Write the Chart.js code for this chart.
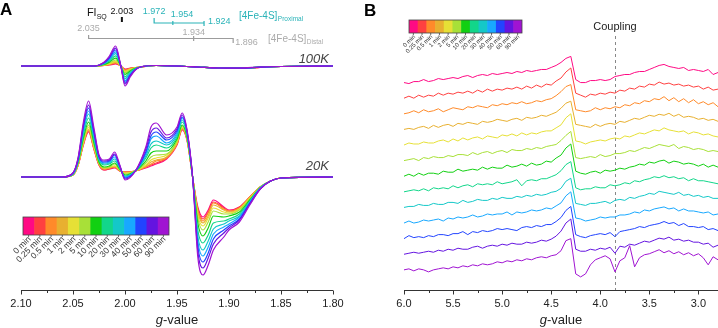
<!DOCTYPE html>
<html>
<head>
<meta charset="utf-8">
<script src="https://cdn.jsdelivr.net/npm/chart.js@4.4.0/dist/chart.umd.min.js"></script>
<style>
  html, body { margin: 0; padding: 0; background: #fff; }
  #wrap { position: relative; width: 718px; height: 328px; overflow: hidden; }
  #ca { position: absolute; left: 0; top: 0; }
  #cb { position: absolute; left: 360px; top: 0; }
</style>
</head>
<body>
<div id="wrap">
  <canvas id="ca" width="360" height="328"></canvas>
  <canvas id="cb" width="358" height="328"></canvas>
</div>
<script>
const FONT = '"Liberation Sans", Arial, Helvetica, sans-serif'

// incubation times and their colours (shared by both panels)
const times = ['0 min', '0.25 min', '0.5 min', '1 min', '2 min', '5 min', '10 min',
  '20 min', '30 min', '40 min', '50 min', '60 min', '90 min']
const colors = ['#ff0a84', '#ff4040', '#ff8a2a', '#e8b030', '#e6e036', '#a8e038', '#12d012',
  '#12d68a', '#14c8c8', '#18a8ff', '#2244ff', '#6414e0', '#a014d2']

// axis ticks
const majorTicksA = [1.80, 1.85, 1.90, 1.95, 2.00, 2.05, 2.10]
const minorTicksA = [1.825, 1.875, 1.925, 1.975, 2.025, 2.075]
const majorTicksB = [3.0, 3.5, 4.0, 4.5, 5.0, 5.5, 6.0]
const minorTicksB = [3.25, 3.75, 4.25, 4.75, 5.25, 5.75]

// g-value markers
const flSQ = [2.003]
const proximalG = [1.972, 1.954, 1.924]
const distalG = [2.035, 1.934, 1.896]
const couplingG = 3.85

// panel A, 20K spectra (one row per time)
const gA20 = [2.10, 2.06, 2.05, 2.045, 2.04, 2.035, 2.03, 2.025, 2.02, 2.015, 2.01, 2.005, 2.0, 1.99,
  1.98, 1.975, 1.97, 1.96, 1.95, 1.945, 1.94, 1.935, 1.93, 1.925, 1.92, 1.915, 1.905, 1.90, 1.89,
  1.88, 1.87, 1.86, 1.85, 1.80]
const spec20K = [
  [0,0,2,12,32,45,28,12,7,8,9,6,5,6,9,11,13,18,32,47,35,0,-30,-40,-33,-23,-30,-33,-30,-20,-10,-4,-1,0],
  [0,0,2,12,33,46,29,12,7,8,10,6,5,6,10,12,14,19,33,48,35,0,-32,-42,-35,-25,-31,-34,-30,-20,-10,-4,-1,0],
  [0,0,2,12,33,47,29,13,8,9,10,6,5,6,10,13,16,19,33,48,36,0,-33,-44,-36,-26,-32,-34,-31,-20,-10,-4,-1,0],
  [0,0,2,13,34,48,30,13,8,9,11,7,4,6,11,15,17,20,34,49,36,0,-35,-46,-39,-28,-33,-35,-32,-21,-10,-4,-1,0],
  [0,0,2,13,35,50,31,14,9,10,11,7,4,6,12,17,19,22,35,50,37,0,-38,-49,-41,-31,-35,-36,-32,-21,-10,-4,-1,0],
  [0,0,2,14,37,52,33,14,9,10,13,7,3,6,14,20,22,23,36,51,37,0,-41,-53,-45,-34,-37,-37,-33,-22,-10,-4,-1,0],
  [0,0,3,15,39,55,35,15,10,11,14,8,2,6,16,24,26,26,38,52,38,0,-46,-59,-51,-39,-40,-39,-35,-23,-11,-4,-1,0],
  [0,0,3,16,42,59,38,17,12,13,16,9,1,6,19,29,32,29,40,55,40,0,-53,-66,-58,-46,-44,-42,-37,-24,-11,-4,-1,0],
  [0,0,3,17,45,63,41,18,13,14,18,9,0,6,21,33,36,32,42,57,41,0,-59,-73,-64,-52,-47,-44,-39,-25,-11,-4,-1,0],
  [0,0,3,17,48,66,43,19,14,15,20,10,0,6,23,38,41,34,44,59,42,0,-64,-79,-70,-57,-50,-47,-40,-25,-11,-4,-1,0],
  [0,0,4,18,50,69,45,20,15,16,22,11,-1,6,25,41,45,37,46,60,43,0,-69,-85,-76,-62,-53,-49,-42,-26,-12,-4,-1,0],
  [0,0,4,19,52,72,47,21,16,17,23,11,-2,6,28,45,49,39,48,62,44,0,-74,-91,-81,-67,-56,-51,-43,-27,-12,-4,-1,0],
  [0,0,4,20,55,76,50,22,17,18,25,12,-3,6,30,50,54,42,50,64,45,0,-80,-98,-88,-73,-60,-53,-45,-28,-12,-4,-1,0]
]

// panel A, 100K spectra
const gA100 = [2.10, 2.03, 2.02, 2.015, 2.009, 2.004, 2.0, 1.995, 1.99, 1.985, 1.97, 1.95, 1.93, 1.91,
  1.89, 1.87, 1.85, 1.80]
const spec100K = [
  [0,0,0.5,1,2,0,-3,-2,-1.5,-1,0.5,0,-1,-2,-2.5,-1.5,-0.5,0],
  [0,0,0.6,1.3,2.5,0,-3.5,-2.3,-1.6,-1,0.5,0,-1,-2,-2.4,-1.4,-0.5,0],
  [0,0,0.7,1.5,3.1,0,-4,-2.5,-1.7,-1,0.5,0,-1,-2,-2.3,-1.3,-0.5,0],
  [0,0,0.9,1.9,3.8,0,-4.7,-2.9,-1.8,-1,0.5,0,-1,-2,-2.2,-1.2,-0.5,0],
  [0,0,1,2.4,4.7,0,-5.6,-3.4,-1.9,-1,0.5,0,-1,-2,-2.2,-1.2,-0.5,0],
  [0,0,1.3,3,6,0,-6.7,-4,-2.1,-1,0.5,0,-1,-2,-2.2,-1.2,-0.5,0],
  [0,0,1.6,3.9,7.8,0,-8.4,-4.9,-2.3,-1,0.5,0,-1,-2,-2.2,-1.2,-0.5,0],
  [0,0,2.1,5,10.1,0,-10.7,-6.1,-2.6,-1,0.5,0,-1,-2,-2.2,-1.2,-0.5,0],
  [0,0,2.5,6.1,12.3,0,-12.7,-7.1,-2.9,-1,0.5,0,-1,-2,-2.2,-1.2,-0.5,0],
  [0,0,2.9,7.1,14.2,0,-14.6,-8.1,-3.2,-1,0.5,0,-1,-2,-2.2,-1.2,-0.5,0],
  [0,0,3.2,8,16,0,-16.3,-9,-3.5,-1,0.5,0,-1,-2,-2.2,-1.2,-0.5,0],
  [0,0,3.6,8.9,17.8,0,-18,-9.9,-3.7,-1,0.5,0,-1,-2,-2.2,-1.2,-0.5,0],
  [0,0,4,10,20,0,-20,-11,-4,-1,0.5,0,-1,-2,-2,-1,-0.5,0]
]

// panel B, low-field traces
const gB = [6.00, 5.95, 5.90, 5.85, 5.80, 5.75, 5.70, 5.65, 5.60, 5.55, 5.50, 5.45, 5.40, 5.35, 5.30,
  5.25, 5.20, 5.15, 5.10, 5.05, 5.00, 4.95, 4.90, 4.85, 4.80, 4.75, 4.70, 4.65, 4.60, 4.55, 4.50,
  4.45, 4.40, 4.35, 4.30, 4.25, 4.20, 4.15, 4.10, 4.05, 4.00, 3.95, 3.90, 3.85, 3.80, 3.75, 3.70,
  3.65, 3.60, 3.55, 3.50, 3.45, 3.40, 3.35, 3.30, 3.25, 3.20, 3.15, 3.10, 3.05, 3.00, 2.95, 2.90,
  2.85, 2.80]
const traceB = [
  [0,-1,1,1,3,1,2,4,3,4,5,4,6,7,5,7,8,7,9,8,9,10,9,11,10,12,11,12,13,13,15,17,20,24,26,3,0,0,2,2,3,2,3,6,7,8,8,10,11,11,13,15,17,18,16,15,14,15,12,13,12,11,13,8,10],
  [0,2,0,3,1,3,2,5,3,5,4,6,5,7,5,8,6,9,7,9,8,10,9,11,9,12,10,13,11,14,13,17,20,26,30,5,3,1,4,3,5,4,6,5,8,7,10,9,12,11,14,13,16,14,15,13,14,12,13,11,12,9,11,8,9],
  [0,1,3,1,4,2,3,5,2,4,6,5,4,7,6,8,7,6,9,8,10,9,11,10,12,10,11,13,12,14,15,18,22,27,29,4,3,2,3,6,4,6,5,7,6,9,8,11,10,13,12,15,14,17,13,16,12,15,11,14,10,12,9,11,7],
  [0,1,0,2,3,1,4,2,4,5,3,6,5,7,6,5,8,7,8,10,9,8,10,11,9,12,11,12,14,13,15,17,21,26,28,5,4,3,2,5,3,5,6,5,8,7,9,11,10,12,14,13,15,14,16,13,15,12,13,12,10,11,9,10,8],
  [0,2,1,1,3,2,2,4,5,3,6,4,7,5,7,8,6,9,8,7,10,9,11,9,12,10,12,11,13,14,14,17,20,27,31,4,3,1,3,4,5,4,6,7,6,9,8,10,12,11,13,15,14,17,15,14,13,14,11,13,12,10,11,9,8],
  [0,1,2,0,3,2,4,3,3,5,4,6,6,5,8,6,8,9,7,9,10,8,11,10,10,12,11,13,12,14,15,16,20,25,29,3,2,3,4,3,6,4,5,7,7,8,10,9,11,13,12,14,16,15,14,16,12,14,13,11,12,11,9,10,9],
  [0,2,0,3,1,3,3,2,5,4,4,7,5,6,7,6,9,7,9,8,8,11,9,10,12,10,13,11,12,15,14,18,21,28,32,5,3,2,4,5,3,6,5,6,8,7,9,10,12,11,14,13,15,16,13,15,14,12,13,12,10,12,9,11,9],
  [0,1,2,1,3,1,4,3,4,3,6,4,6,7,5,8,7,8,7,10,8,9,10,12,6,11,12,11,13,13,15,17,21,27,30,4,2,3,3,5,4,4,7,6,7,9,8,11,10,12,13,15,14,16,14,15,13,14,11,13,11,11,10,9,8],
  [0,1,1,3,2,2,4,3,3,5,5,4,7,5,6,8,7,7,9,8,10,9,9,11,10,12,11,13,12,13,15,16,19,26,29,4,3,2,4,4,5,6,4,7,8,7,10,9,11,12,14,13,16,15,14,13,15,12,13,11,12,10,11,9,9],
  [0,2,0,1,3,2,3,4,2,5,4,6,5,6,8,6,7,9,8,9,9,11,8,11,10,11,13,12,13,15,14,17,20,27,31,5,4,2,3,4,6,5,6,6,8,8,9,11,10,13,12,14,15,16,14,15,12,14,12,12,11,10,11,8,9],
  [0,3,1,2,1,3,2,4,4,3,5,5,7,4,7,6,8,7,8,10,9,10,9,8,11,12,11,13,12,14,14,17,21,28,32,4,2,1,3,4,5,4,6,2,7,8,9,10,12,11,13,14,15,17,15,16,13,15,12,12,11,12,9,10,8],
  [0,1,2,1,2,3,2,4,3,5,4,6,5,5,7,8,6,8,9,8,10,9,11,10,10,12,11,12,14,13,15,18,23,31,35,5,3,3,5,4,6,5,7,1,8,7,10,9,11,13,12,14,16,15,17,14,15,13,14,12,12,10,11,7,9],
  [0,1,-1,1,0,-2,0,1,2,1,3,2,4,3,5,4,6,5,6,8,7,9,8,10,9,11,10,12,13,12,14,15,19,29,31,-4,-7,-4,5,10,12,14,11,-2,9,12,24,3,12,15,16,18,20,17,19,16,18,15,17,14,16,12,5,13,10]
]

// layout: vertical stacking of the curves
const off100K = 111
const traceGap = 15.5
const lowestTrace = 20

function tickList(majors, minors) {
  return majors.map(v => ({ value: v, big: true }))
    .concat(minors.map(v => ({ value: v, big: false })))
    .sort((a, b) => a.value - b.value)
}

function xAxis(min, max, majors, minors, digits) {
  return {
    type: 'linear', reverse: true, min: min, max: max,
    afterBuildTicks: s => { s.ticks = tickList(majors, minors) },
    afterFit: s => { s.height = 38 },
    grid: { display: false, drawTicks: false },
    border: { display: false },
    ticks: {
      autoSkip: false, maxRotation: 0, minRotation: 0, padding: 7, color: '#222',
      font: { family: FONT, size: 11 },
      callback: (v, i, arr) => (arr[i] && arr[i].big) ? Number(v).toFixed(digits) : ''
    }
  }
}

function drawAxis(chart) {
  const { ctx, chartArea: a, scales: { x } } = chart
  ctx.save()
  ctx.strokeStyle = '#333'
  ctx.lineWidth = 1
  const y = Math.round(a.bottom) + 0.5
  ctx.beginPath()
  ctx.moveTo(a.left, y)
  ctx.lineTo(a.right, y)
  x.ticks.forEach(t => {
    const px = Math.round(x.getPixelForValue(t.value)) + 0.5
    ctx.moveTo(px, y)
    ctx.lineTo(px, y + (t.big ? 4 : 2.5))
  })
  ctx.stroke()
  // axis title with italic g
  ctx.fillStyle = '#222'
  ctx.textBaseline = 'middle'
  ctx.textAlign = 'left'
  const f1 = 'italic 13px ' + FONT, f2 = '13px ' + FONT
  ctx.font = f1
  const w1 = ctx.measureText('g').width
  ctx.font = f2
  const w2 = ctx.measureText('-value').width
  const sx = (a.left + a.right) / 2 - (w1 + w2) / 2
  ctx.font = f1
  ctx.fillText('g', sx, 320)
  ctx.font = f2
  ctx.fillText('-value', sx + w1, 320)
  ctx.restore()
}

function drawColorbar(ctx, x0, y0, w, h, fs) {
  const sw = w / colors.length
  ctx.save()
  colors.forEach((c, i) => {
    ctx.fillStyle = c
    ctx.fillRect(x0 + i * sw, y0, i === colors.length - 1 ? sw : sw + 0.6, h)
  })
  ctx.strokeStyle = '#444'
  ctx.lineWidth = 0.8
  ctx.strokeRect(x0, y0, w, h)
  ctx.fillStyle = '#333'
  ctx.font = fs + 'px ' + FONT
  ctx.textAlign = 'right'
  ctx.textBaseline = 'middle'
  times.forEach((t, i) => {
    const cx = x0 + (i + 0.5) * sw
    ctx.beginPath()
    ctx.moveTo(cx, y0 + h)
    ctx.lineTo(cx, y0 + h + 2)
    ctx.stroke()
    ctx.save()
    ctx.translate(cx + 1, y0 + h + 3)
    ctx.rotate(-Math.PI / 4)
    ctx.fillText(t, 0, 0)
    ctx.restore()
  })
  ctx.restore()
}

// text followed by a subscript
function subText(ctx, main, sub, x, y, size, subSize) {
  ctx.font = size + 'px ' + FONT
  ctx.fillText(main, x, y)
  const w = ctx.measureText(main).width
  ctx.font = subSize + 'px ' + FONT
  ctx.fillText(sub, x + w + 0.5, y + size * 0.35)
}

const decorA = {
  id: 'decorA',
  afterDraw(chart) {
    const { ctx, scales: { x } } = chart
    const px = g => x.getPixelForValue(g)
    drawAxis(chart)
    ctx.save()
    ctx.textBaseline = 'middle'
    ctx.textAlign = 'left'
    ctx.fillStyle = '#000'
    ctx.font = 'bold 17px ' + FONT
    ctx.fillText('A', 0, 10)

    ctx.font = 'italic 13px ' + FONT
    ctx.fillStyle = '#444'
    ctx.textAlign = 'right'
    ctx.fillText('100K', 329, 59)
    ctx.fillText('20K', 329, 166)

    // semiquinone marker
    ctx.textAlign = 'left'
    ctx.fillStyle = '#111'
    subText(ctx, 'Fl', 'SQ', 87, 13, 11, 7)
    ctx.font = '9px ' + FONT
    ctx.textAlign = 'center'
    ctx.fillText(flSQ[0].toFixed(3), px(flSQ[0]), 12)
    ctx.strokeStyle = '#111'
    ctx.lineWidth = 2
    ctx.beginPath()
    ctx.moveTo(px(flSQ[0]), 17)
    ctx.lineTo(px(flSQ[0]), 22)
    ctx.stroke()

    // proximal cluster
    const teal = '#2ab3b8'
    const [p1, p2, p3] = proximalG.map(px)
    ctx.strokeStyle = teal
    ctx.lineWidth = 1.2
    ctx.beginPath()
    ctx.moveTo(p1, 18); ctx.lineTo(p1, 23); ctx.lineTo(p3, 23)
    ctx.moveTo(p3, 21); ctx.lineTo(p3, 26)
    ctx.moveTo(p2, 21); ctx.lineTo(p2, 25)
    ctx.stroke()
    ctx.fillStyle = teal
    ctx.font = '9px ' + FONT
    ctx.textAlign = 'center'
    ctx.fillText(proximalG[0].toFixed(3), p1, 12)
    ctx.textAlign = 'left'
    ctx.fillText(proximalG[1].toFixed(3), p2 - 2, 15)
    ctx.fillText(proximalG[2].toFixed(3), p3 + 4, 22)
    subText(ctx, '[4Fe-4S]', 'Proximal', 239, 16, 10, 6.5)

    // distal cluster
    const [d1, d2, d3] = distalG.map(px)
    ctx.strokeStyle = '#9c9c9c'
    ctx.lineWidth = 1.2
    ctx.beginPath()
    ctx.moveTo(d1, 35); ctx.lineTo(d1, 38.5); ctx.lineTo(d3, 38.5)
    ctx.moveTo(d2, 36); ctx.lineTo(d2, 41)
    ctx.moveTo(d3, 38); ctx.lineTo(d3, 43)
    ctx.stroke()
    ctx.fillStyle = '#ababab'
    ctx.font = '9px ' + FONT
    ctx.textAlign = 'center'
    ctx.fillText(distalG[0].toFixed(3), d1, 29)
    ctx.fillText(distalG[1].toFixed(3), d2, 33)
    ctx.textAlign = 'left'
    ctx.fillText(distalG[2].toFixed(3), d3 + 2, 43)
    subText(ctx, '[4Fe-4S]', 'Distal', 268, 39, 10, 6.5)
    ctx.restore()

    drawColorbar(ctx, 23, 217, 146, 18, 8.5)
  }
}

const decorB = {
  id: 'decorB',
  beforeDatasetsDraw(chart) {
    const { ctx, chartArea: a, scales: { x } } = chart
    const cx = Math.round(x.getPixelForValue(couplingG)) + 0.5
    ctx.save()
    ctx.strokeStyle = '#888'
    ctx.lineWidth = 1
    ctx.setLineDash([3, 3])
    ctx.beginPath()
    ctx.moveTo(cx, 36)
    ctx.lineTo(cx, a.bottom)
    ctx.stroke()
    ctx.restore()
  },
  afterDraw(chart) {
    const { ctx, scales: { x } } = chart
    drawAxis(chart)
    ctx.save()
    ctx.textBaseline = 'middle'
    ctx.fillStyle = '#000'
    ctx.font = 'bold 17px ' + FONT
    ctx.textAlign = 'left'
    ctx.fillText('B', 4, 11)
    ctx.font = '11px ' + FONT
    ctx.fillStyle = '#222'
    ctx.textAlign = 'center'
    ctx.fillText('Coupling', x.getPixelForValue(couplingG), 27)
    ctx.restore()
    drawColorbar(ctx, 49, 20, 113, 13, 6)
  }
}

// later times are drawn on top (lower order = drawn last)
const datasetsA = []
spec100K.forEach((row, s) => {
  datasetsA.push({
    data: gA100.map((g, k) => ({ x: g, y: row[k] + off100K })),
    borderColor: colors[s], borderWidth: 1.2, pointRadius: 0,
    cubicInterpolationMode: 'monotone', fill: false, order: colors.length - s
  })
})
spec20K.forEach((row, s) => {
  datasetsA.push({
    data: gA20.map((g, k) => ({ x: g, y: row[k] })),
    borderColor: colors[s], borderWidth: 1.2, pointRadius: 0,
    cubicInterpolationMode: 'monotone', fill: false, order: colors.length - s
  })
})

const datasetsB = traceB.map((row, s) => ({
  data: gB.map((g, k) => ({ x: g, y: row[k] + lowestTrace + (traceB.length - 1 - s) * traceGap })),
  borderColor: colors[s], borderWidth: 1, pointRadius: 0, tension: 0, fill: false
}))

const common = {
  responsive: false, animation: false, devicePixelRatio: 1,
  plugins: { legend: { display: false }, tooltip: { enabled: false } },
  events: []
}

new Chart(document.getElementById('ca'), {
  type: 'line',
  data: { datasets: datasetsA },
  options: Object.assign({}, common, {
    layout: { padding: { left: 21, right: 27, top: 0, bottom: 0 } },
    scales: {
      x: xAxis(1.80, 2.10, majorTicksA, minorTicksA, 2),
      y: { display: false, min: -113, max: 177 }
    }
  }),
  plugins: [decorA]
})

new Chart(document.getElementById('cb'), {
  type: 'line',
  data: { datasets: datasetsB },
  options: Object.assign({}, common, {
    layout: { padding: { left: 44, right: 0, top: 0, bottom: 0 } },
    scales: {
      x: xAxis(2.8, 6.0, majorTicksB, minorTicksB, 1),
      y: { display: false, min: 0, max: 288 }
    }
  }),
  plugins: [decorB]
})
</script>
</body>
</html>
